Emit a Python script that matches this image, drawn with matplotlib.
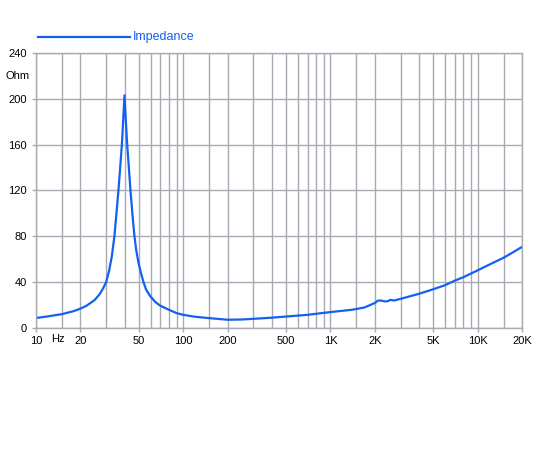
import matplotlib.pyplot as plt
import matplotlib.ticker as mticker
from matplotlib.lines import Line2D

plt.rcParams['font.family'] = ['Liberation Sans', 'DejaVu Sans']

# impedance curve (Hz, Ohm)
freq = [10, 12, 15, 18, 20, 22, 25, 27, 28.5, 30, 31.4, 32.7, 34.1, 35.2,
        36.3, 37.3, 38.3, 39.1, 39.9, 40.7, 41.6, 42.7, 43.8, 45.1, 46.6,
        48, 49.6, 51.5, 53.6, 56, 60, 65, 70, 80, 90, 100,
        120, 150, 200, 250, 300, 400, 500, 700, 1000, 1400, 1700, 2000, 2100,
        2200, 2350, 2450, 2550, 2700, 3000, 4000, 5000, 6000, 7000, 8000,
        10000, 12000, 15000, 17500, 20000]
ohm = [8.3, 9.7, 11.7, 14.3, 16.5, 19, 24, 29, 34, 40, 50, 62, 80, 100,
       120, 140, 160, 182, 203, 182, 160, 140, 120, 100, 80,
       67, 57, 48, 40, 33, 27, 22, 19, 15.5, 12.6, 11.1,
       9.4, 8.2, 6.8, 7.0, 7.6, 8.6, 9.6, 11.1, 13.5, 15.5, 17.5, 21.4, 23.5,
       23.6, 22.8, 23.0, 24.2, 23.6, 25.1, 29.5, 33.5, 37, 41, 44,
       50, 55, 61, 66, 70.5]

xticks = [10, 20, 50, 100, 200, 500, 1000, 2000, 5000, 10000, 20000]
xlabels = ['10', '20', '50', '100', '200', '500', '1K', '2K', '5K', '10K', '20K']
yticks = [0, 40, 80, 120, 160, 200, 240]

line_col = '#1560f0'
grid_col = '#a8abb2'

fig = plt.figure(figsize=(5.5, 4.5), dpi=100)
ax = fig.add_axes([0.0655, 0.2722, 0.8836, 0.61])

ax.plot(freq, ohm, color=line_col, lw=1.6, solid_joinstyle='round')
ax.set_xscale('log')
ax.set_xlim(10, 20000)
ax.set_ylim(0, 240)

# vertical grid at 1,1.5,2,3,...,9 per decade
vgrid = []
for d in [10, 100, 1000, 10000]:
    for m in [1, 1.5, 2, 3, 4, 5, 6, 7, 8, 9]:
        if d * m <= 20000:
            vgrid.append(d * m)
for v in vgrid:
    ax.axvline(v, color=grid_col, lw=1.0, zorder=0)
for h in yticks:
    ax.axhline(h, color=grid_col, lw=1.0, zorder=0)

ax.xaxis.set_major_locator(mticker.FixedLocator(xticks))
ax.xaxis.set_minor_locator(mticker.NullLocator())
ax.set_xticklabels(xlabels)
ax.set_yticks(yticks)
ax.tick_params(axis='both', labelsize=8, length=3, color=grid_col, width=1)
ax.tick_params(axis='x', pad=3)
for s in ax.spines.values():
    s.set_color(grid_col)
    s.set_linewidth(1.0)

fig.text(30 / 550, 1 - 76 / 450, 'Ohm', fontsize=8, ha='right', va='center')
fig.text(58 / 550, 1 - 339 / 450, 'Hz', fontsize=8, ha='center', va='center')

# legend at the top
fig.add_artist(Line2D([38 / 550, 130 / 550], [1 - 37 / 450, 1 - 37 / 450],
                      color=line_col, lw=1.6))
fig.text(133 / 550, 1 - 37 / 450, 'Impedance', fontsize=9, color=line_col,
         ha='left', va='center')

fig.savefig('out.png', dpi=100)
